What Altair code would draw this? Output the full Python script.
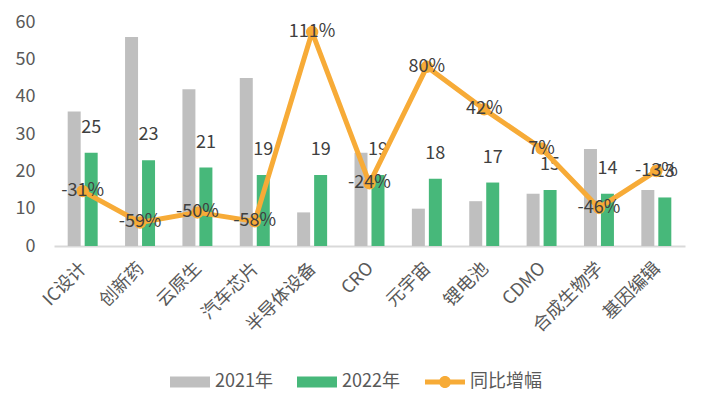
import altair as alt
import pandas as pd

categories = ["IC设计", "创新药", "云原生", "汽车芯片", "半导体设备", "CRO", "元宇宙", "锂电池", "CDMO", "合成生物学", "基因编辑"]
v2021 = [36, 56, 42, 45, 9, 25, 10, 12, 14, 26, 15]
v2022 = [25, 23, 21, 19, 19, 19, 18, 17, 15, 14, 13]
yoy = [-0.31, -0.59, -0.50, -0.58, 1.11, -0.24, 0.80, 0.42, 0.07, -0.46, -0.13]
bar_series = ["2021年", "2022年"]
bar_colors = ["#BFBFBF", "#47B87A"]
line_series = ["同比增幅"]
line_color = "#F7AB37"

FONT = "Noto Sans CJK SC"
GRAY_TXT = "#595959"
LABEL_TXT = "#404040"

bars_df = pd.DataFrame({
    "category": categories * 2,
    "series": [bar_series[0]] * len(categories) + [bar_series[1]] * len(categories),
    "value": v2021 + v2022,
})
lab_df = bars_df[bars_df["series"] == bar_series[1]]
line_df = pd.DataFrame({
    "category": categories,
    "yoy": yoy,
    "series": line_series * len(categories),
    "label": [f"{round(v * 100)}%" for v in yoy],
})

x_axis = alt.Axis(labelAngle=-45, labelPadding=13, labelOffset=-5, labelFontSize=18,
                  labelColor=GRAY_TXT, labelFont=FONT, domainColor="#D9D9D9", domainWidth=2,
                  ticks=False, grid=False, labelOverlap=False, title=None)
x_scale = alt.Scale(paddingInner=0, paddingOuter=0)


def xenc():
    return alt.X("category:N", sort=categories, title=None, scale=x_scale, axis=x_axis)


xoff = alt.XOffset("series:N", sort=bar_series,
                   scale=alt.Scale(paddingInner=0.235, paddingOuter=0.806))
y_scale = alt.Scale(domain=[0, 60], nice=False)
y_axis = alt.Axis(values=[0, 10, 20, 30, 40, 50, 60], domain=False, ticks=False,
                  grid=False, labelPadding=19, labelFontSize=18, labelOverlap=False,
                  labelColor=GRAY_TXT, labelFont=FONT, title=None)


def yenc():
    return alt.Y("value:Q", title=None, scale=y_scale, axis=y_axis)


rect_path = "M-1,-0.275L1,-0.275L1,0.275L-1,0.275Z"
line_path = ("M-1,-0.12L1,-0.12L1,0.12L-1,0.12Z "
             "M-0.3,0A0.3,0.3 0 1,1 0.3,0A0.3,0.3 0 1,1 -0.3,0Z")

bars = alt.Chart(bars_df).mark_bar().encode(
    x=xenc(), xOffset=xoff, y=yenc(),
    color=alt.Color("series:N", scale=alt.Scale(domain=bar_series, range=bar_colors),
                    legend=alt.Legend(title=None, orient="none", legendX=116, legendY=340,
                                      direction="horizontal", symbolType=rect_path,
                                      symbolSize=1600, symbolStrokeWidth=0,
                                      labelFontSize=18, labelColor=GRAY_TXT, labelFont=FONT,
                                      labelOffset=5, columnPadding=24, padding=0)),
)

bar_labels = alt.Chart(lab_df).mark_text(
    dy=-25, baseline="middle", align="center", fontSize=18, font=FONT, color=LABEL_TXT
).encode(x=xenc(), xOffset=xoff, y=yenc(), text=alt.Text("value:Q"))

bar_layer = alt.layer(bars, bar_labels)

y2 = alt.Y("yoy:Q", title=None, scale=alt.Scale(domain=[-0.8, 1.2], nice=False, zero=False),
           axis=None)
line = alt.Chart(line_df).mark_line(
    strokeWidth=5, strokeJoin="round", strokeCap="round",
    point=alt.OverlayMarkDef(filled=True, size=110, color=line_color, opacity=1),
).encode(
    x=xenc(),
    y=y2,
    stroke=alt.Stroke("series:N", scale=alt.Scale(domain=line_series, range=[line_color]),
                      legend=alt.Legend(title=None, orient="none", legendX=371, legendY=340,
                                        symbolType=line_path, symbolSize=1600,
                                        symbolFillColor=line_color, symbolStrokeWidth=0,
                                        labelFontSize=18, labelColor=GRAY_TXT, labelFont=FONT,
                                        labelOffset=5, padding=0)),
)

line_labels = alt.Chart(line_df).mark_text(
    baseline="middle", align="center", fontSize=18, font=FONT, color=LABEL_TXT
).encode(x=xenc(), y=y2, text="label:N")

line_layer = alt.layer(line, line_labels)

chart = alt.layer(bar_layer, line_layer).resolve_scale(
    y="independent"
).properties(
    width=631, height=224,
    autosize=alt.AutoSizeParams(type="none"),
    padding={"left": 54, "top": 22, "right": 24, "bottom": 167},
    background="white",
).configure_view(stroke=None)

chart.save("out.html", embed_options={"renderer": "svg", "actions": False})
